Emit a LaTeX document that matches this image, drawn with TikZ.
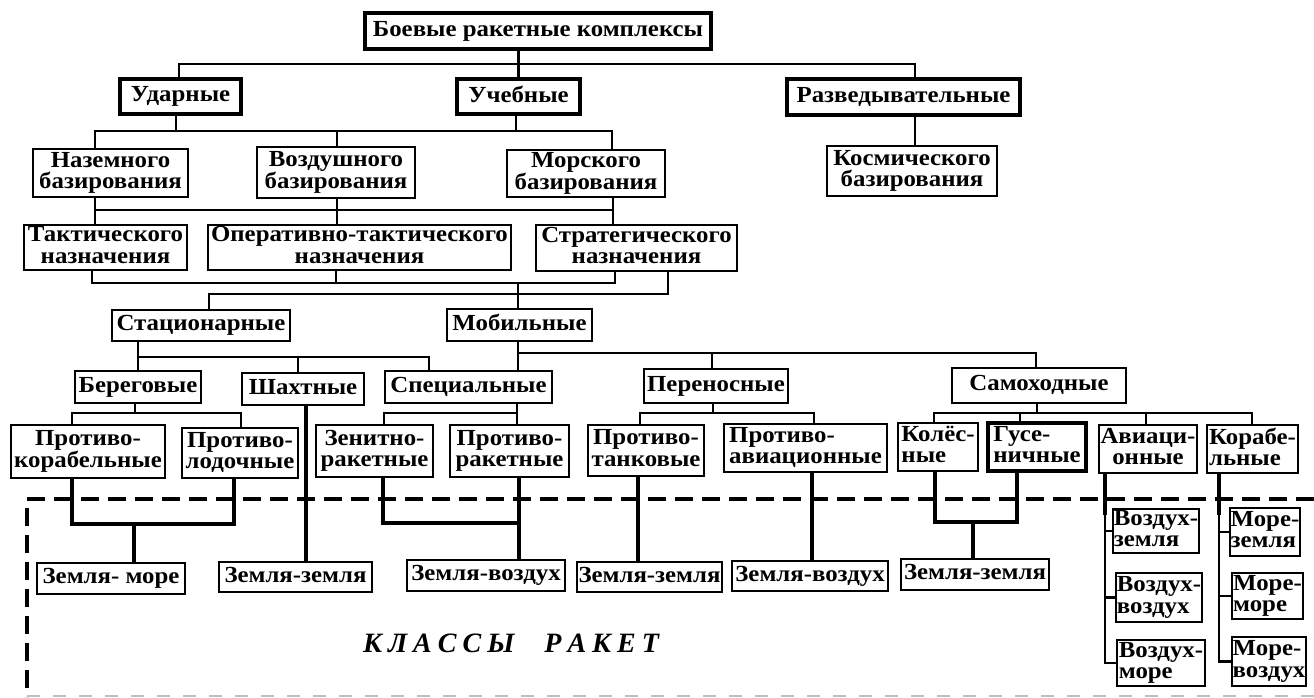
\documentclass[tikz,border=0pt]{standalone}
\usepackage{fontspec}
\setmainfont{Liberation Serif}
\newfontfamily\bxfam{Liberation Serif}[FakeStretch=1.08]
\newcommand\bxfont{\bxfam\bfseries\fontsize{23}{21.5}\selectfont}
\newcommand\bx[7][]{\node[box,#1,minimum width={#4-#2},minimum height={#5-#3}] (#6) at ({(#2+#4)/2},{(#3+#5)/2}) {#7\vphantom{Ду}};}
\newcommand\ls{\hspace{6pt}}
\tikzset{
  box/.style={draw, line width=2.2pt, fill=white, inner sep=0pt, align=center, font=\bxfont},
  thickbox/.style={line width=4pt},
  lft/.style={align=left},
  conn/.style={line width=2.4pt},
  conn2/.style={line width=3.2pt},
  dashframe/.style={line width=4pt, dash pattern=on 18pt off 9pt},
  bottomdash/.style={line width=2pt, draw=black!25, dash pattern=on 13pt off 13pt},
}
\begin{document}
\begin{tikzpicture}[x=1pt,y=-1pt]
\useasboundingbox[fill=white] (0,0) rectangle (1314,697);
\draw[dashframe] (1314,499) -- (27,499) -- (27,697);
\draw[bottomdash] (27,696) -- (1314,696);

\bx[thickbox]{365}{13}{711}{49}{top}{Боевые ракетные комплексы}
\bx[thickbox]{120}{79}{241}{114}{udar}{Ударные}
\bx[thickbox]{457}{79}{580}{114}{ucheb}{Учебные}
\bx[thickbox]{787}{79}{1020}{115}{razv}{Разведывательные}
\bx{33}{149}{188}{197}{nazem}{Наземного\\базирования}
\bx{257}{147}{415}{198}{vozd}{Воздушного\\базирования}
\bx{507}{150}{665}{197}{mor}{Морского\\базирования}
\bx{827}{146}{997}{196}{kosm}{Космического\\базирования}
\bx{24}{225}{187}{270}{takt}{Тактического\\назначения}
\bx{208}{225}{511}{270}{oper}{Оперативно-тактического\\назначения}
\bx{536}{225}{737}{271}{strat}{Стратегического\\назначения}
\bx{112}{310}{290}{341}{stac}{Стационарные}
\bx{447}{309}{592}{341}{mob}{Мобильные}
\bx{75}{371}{201}{403}{bereg}{Береговые}
\bx{242}{373}{364}{405}{shaht}{Шахтные}
\bx{385}{371}{552}{403}{spec}{Специальные}
\bx{644}{369}{788}{403}{peren}{Переносные}
\bx{952}{368}{1126}{403}{samoh}{Самоходные}
\bx{11}{425}{165}{478}{pkor}{Противо-\\корабельные}
\bx{182}{428}{298}{478}{plod}{Противо-\\лодочные}
\bx{316}{425}{433}{477}{zen}{Зенитно-\\ракетные}
\bx{450}{425}{569}{477}{prak}{Противо-\\ракетные}
\bx{588}{425}{704}{476}{ptank}{Противо-\\танковые}
\bx[lft]{724}{424}{887}{472}{pavia}{Противо-\\авиационные}
\bx[lft]{898}{423}{978}{471}{koles}{Колёс-\\ные}
\bx[thickbox,lft]{988}{423}{1086}{471}{gus}{Гусе-\\ничные}
\bx{1099}{425}{1197}{473}{avia}{Авиаци-\\онные}
\bx[lft]{1207}{425}{1298}{473}{korab}{Корабе-\\льные}
\bx{37}{563}{185}{594}{zm}{Земля- море}
\bx{219}{562}{372}{592}{zz1}{Земля-земля}
\bx{407}{560}{565}{591}{zv1}{Земля-воздух}
\bx{577}{562}{722}{592}{zz2}{Земля-земля}
\bx{732}{561}{888}{591}{zv2}{Земля-воздух}
\bx{901}{559}{1049}{590}{zz3}{Земля-земля}
\bx[lft]{1113}{509}{1199}{553}{vz}{Воздух-\\земля}
\bx[lft]{1116}{573}{1202}{622}{vv}{Воздух-\\воздух}
\bx[lft]{1117}{640}{1205}{686}{vm}{Воздух-\\море}
\bx[lft]{1230}{508}{1300}{556}{mz}{Море-\\земля}
\bx[lft]{1232}{573}{1303}{619}{mm}{Море-\\море}
\bx[lft]{1232}{637}{1306}{686}{mv}{Море-\\воздух}

\node[font=\bfseries\itshape\fontsize{28}{28}\selectfont, inner sep=0pt] (cls) at (511,643) {К\ls Л\ls А\ls С\ls С\ls Ы\hspace{30pt}Р\ls А\ls К\ls Е\ls Т};

% level 1
\draw[conn] (ucheb.north |- top.south) -- (ucheb.north);
\draw[conn] (179,0 |- udar.north) -- (179,64) -- (915,64) -- (915,0 |- razv.north);
\draw[conn] (176,0 |- udar.south) -- (176,131);
\draw[conn] (516,0 |- ucheb.south) -- (516,131);
\draw[conn] (95,0 |- nazem.north) -- (95,131) -- (612,131) -- (612,0 |- mor.north);
\draw[conn] (337,131) -- (337,0 |- vozd.north);
\draw[conn] (915,0 |- razv.south) -- (915,0 |- kosm.north);
% bases -> purposes
\draw[conn] (95,0 |- nazem.south) -- (95,0 |- takt.north);
\draw[conn] (337,0 |- vozd.south) -- (337,0 |- oper.north);
\draw[conn] (613,0 |- mor.south) -- (613,0 |- strat.north);
\draw[conn] (95,210) -- (613,210);
% purposes -> stac / mob
\draw[conn] (92,0 |- takt.south) -- (92,283) -- (615,283) -- (615,0 |- strat.south);
\draw[conn] (336,0 |- oper.south) -- (336,283);
\draw[conn] (518,283) -- (518,0 |- mob.north);
\draw[conn] (209,0 |- stac.north) -- (209,294) -- (668,294) -- (668,0 |- strat.south);
% stac
\draw[conn] (138,0 |- stac.south) -- (138,357);
\draw[conn] (138,0 |- bereg.north) -- (138,357) -- (429,357) -- (429,0 |- spec.north);
\draw[conn] (298,357) -- (298,0 |- shaht.north);
% mob
\draw[conn] (518,0 |- mob.south) -- (518,0 |- spec.north);
\draw[conn] (518,353) -- (1036,353) -- (1036,0 |- samoh.north);
\draw[conn] (712,353) -- (712,0 |- peren.north);
% lower buses
\draw[conn] (135,0 |- bereg.south) -- (135,413);
\draw[conn] (72,0 |- pkor.north) -- (72,413) -- (241,413) -- (241,0 |- plod.north);
\draw[conn2] (306,0 |- shaht.south) -- (306,0 |- zz1.north);
\draw[conn] (517,0 |- spec.south) -- (517,0 |- prak.north);
\draw[conn] (384,0 |- zen.north) -- (384,413) -- (517,413);
\draw[conn] (713,0 |- peren.south) -- (713,413);
\draw[conn] (640,0 |- ptank.north) -- (640,413) -- (814,413) -- (814,0 |- pavia.north);
\draw[conn] (1037,0 |- samoh.south) -- (1037,413);
\draw[conn] (934,0 |- koles.north) -- (934,413) -- (1252,413) -- (1252,0 |- korab.north);
\draw[conn] (1020,413) -- (1020,0 |- gus.north);
\draw[conn] (1146,413) -- (1146,0 |- avia.north);
% classes
\draw[conn2] (72,0 |- pkor.south) -- (72,524) -- (234,524) -- (234,0 |- plod.south);
\draw[conn2] (134,524) -- (134,0 |- zm.north);
\draw[conn2] (383,0 |- zen.south) -- (383,523) -- (519,523);
\draw[conn2] (519,0 |- prak.south) -- (519,0 |- zv1.north);
\draw[conn2] (638,0 |- ptank.south) -- (638,0 |- zz2.north);
\draw[conn2] (812,0 |- pavia.south) -- (812,0 |- zv2.north);
\draw[conn2] (935,0 |- koles.south) -- (935,522) -- (1017,522) -- (1017,0 |- gus.south);
\draw[conn2] (973,522) -- (973,0 |- zz3.north);
\draw[line width=4pt] (1105,0 |- avia.south) -- (1105,515);
\draw[conn] (1105,515) -- (1105,0 |- vm.west) -- (vm.west);
\draw[conn] (1105,0 |- vz.west) -- (vz.west);
\draw[conn] (1105,0 |- vv.west) -- (vv.west);
\draw[line width=4pt] (1219,0 |- korab.south) -- (1219,515);
\draw[conn] (1219,515) -- (1219,0 |- mv.west) -- (mv.west);
\draw[conn] (1219,0 |- mz.west) -- (mz.west);
\draw[conn] (1219,0 |- mm.west) -- (mm.west);
\end{tikzpicture}
\end{document}
